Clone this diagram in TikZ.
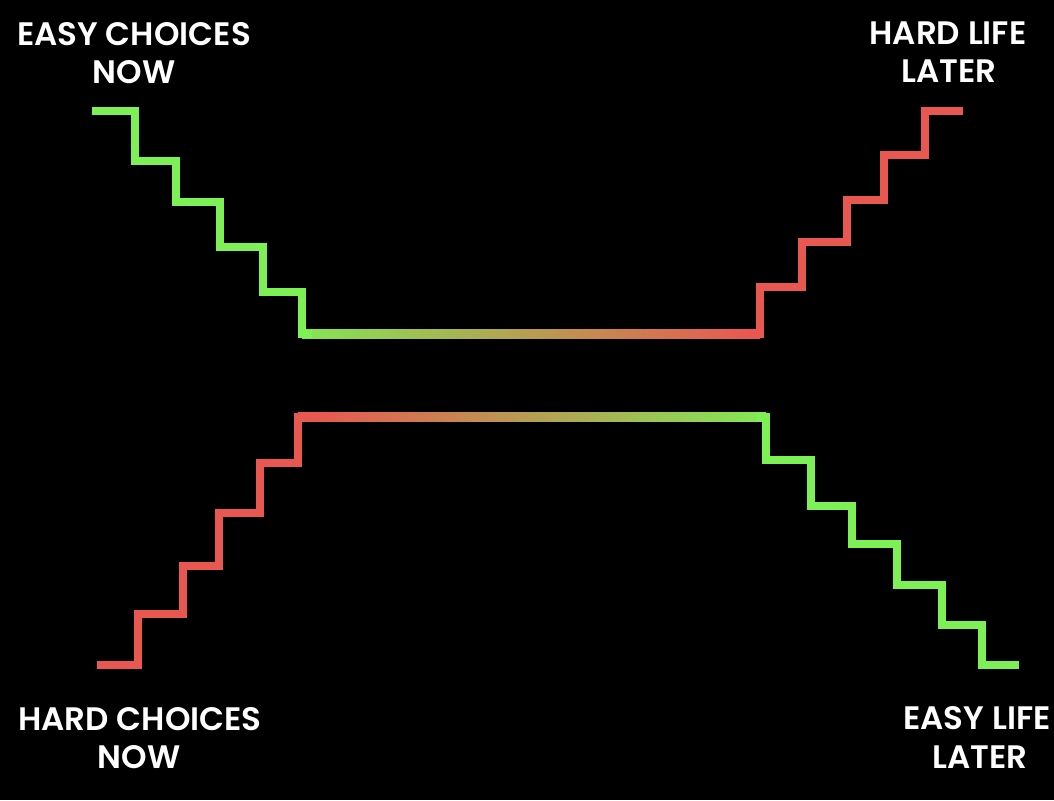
\documentclass[tikz,border=0pt]{standalone}
\usepackage{fontspec}
\setmainfont{Poppins}[BoldFont={Poppins SemiBold}]
\definecolor{gr}{RGB}{125,240,85}
\definecolor{rd}{RGB}{232,88,80}
\pgfdeclarehorizontalshading{topmid}{100bp}{color(0bp)=(gr); color(21bp)=(gr); color(74bp)=(rd); color(100bp)=(rd)}
\pgfdeclarehorizontalshading{botmid}{100bp}{color(0bp)=(rd); color(27bp)=(rd); color(77bp)=(gr); color(100bp)=(gr)}
\begin{document}
\begin{tikzpicture}[x=1pt,y=-1pt,
  stair/.style={line width=8.5pt, line join=miter, line cap=butt},
  lbl/.style={text=white, font=\fontsize{32.5}{36}\selectfont\bfseries, inner sep=0pt, anchor=base}]
\fill[black] (0,0) rectangle (1054,800);
\useasboundingbox (0,0) rectangle (1054,800);
% top middle gradient
\shade[shading=topmid] (302,329.75) rectangle (760,338.25);
% bottom middle gradient
\shade[shading=botmid] (298,412.75) rectangle (766,421.25);
% top-left green stairs
\draw[stair, gr] (92,111) -- (135,111) -- (135,161) -- (176,161) -- (176,202) -- (220,202) -- (220,247) -- (263,247) -- (263,292) -- (302,292) -- (302,334) -- (312,334);
% top-right red stairs
\draw[stair, rd] (750,334) -- (760,334) -- (760,287) -- (802,287) -- (802,242) -- (847,242) -- (847,200) -- (884,200) -- (884,155) -- (925,155) -- (925,111) -- (963,111);
% bottom-left red stairs
\draw[stair, rd] (97,665) -- (138,665) -- (138,614) -- (183,614) -- (183,566) -- (219,566) -- (219,513) -- (260,513) -- (260,463) -- (298,463) -- (298,417) -- (308,417);
% bottom-right green stairs
\draw[stair, gr] (756,417) -- (766,417) -- (766,460) -- (811,460) -- (811,506) -- (852,506) -- (852,544) -- (897,544) -- (897,585) -- (942,585) -- (942,625) -- (982,625) -- (982,665) -- (1019,665);
% labels
\node[lbl] (ec1) at (134,46) {EASY CHOICES};
\node[lbl] (ec2) at (134,83) {NOW};
\node[lbl] (hl1) at (948,45) {HARD LIFE};
\node[lbl] (hl2) at (949,82) {LATER};
\node[lbl] (hc1) at (140,730) {HARD CHOICES};
\node[lbl] (hc2) at (139,768) {NOW};
\node[lbl] (el1) at (977,729) {EASY LIFE};
\node[lbl] (el2) at (980,768) {LATER};
\end{tikzpicture}
\end{document}
